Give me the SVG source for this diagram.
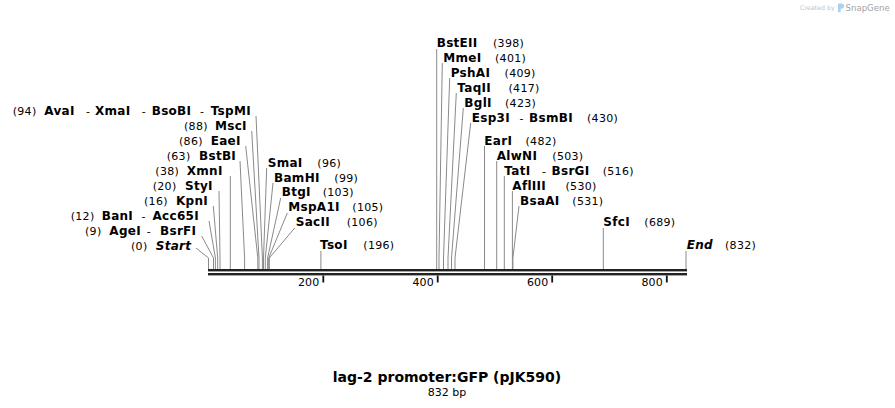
<svg xmlns="http://www.w3.org/2000/svg" width="895" height="408" viewBox="0 0 895 408">
<style>
text{font-family:"DejaVu Sans","Liberation Sans",sans-serif;fill:#000}
.n{font-size:11px;letter-spacing:0.3px}
.b{font-size:12px;font-weight:bold;letter-spacing:0.3px}
.i{font-size:12px;font-weight:bold;font-style:italic;letter-spacing:0.3px}
.d{font-size:11px}
.ld{fill:none;stroke:#8a8a8a;stroke-width:1}
.bb{fill:#222}
.tk{fill:#111}
.tl{font-size:11px;letter-spacing:0.2px}
.title{font-size:14px;font-weight:bold}
.sub{font-size:11px}
</style>
<rect width="895" height="408" fill="#fff"/>
<g id="logo">
<text x="800" y="10" style="font-size:6.3px;fill:#c4c4c4">Created by</text>
<path d="M838,3.5 h3.5 a2.6,2.6 0 0 1 0,5.2 h-0.8 v3.6 h-2.7 z" fill="#a9d2ee"/>
<text x="845.5" y="11" style="font-size:8.6px;fill:#a4a4a4">SnapGene</text>
</g>
<g id="backbone">
<rect class="bb" x="208" y="269" width="479" height="2.4"/>
<rect class="bb" x="208" y="273" width="479" height="2.4"/>
<rect class="tk" x="322.4" y="275.5" width="1.8" height="7"/>
<rect class="tk" x="436.8" y="275.5" width="1.8" height="7"/>
<rect class="tk" x="551.3" y="275.5" width="1.8" height="7"/>
<rect class="tk" x="665.9" y="275.5" width="1.8" height="7"/>
<text class="tl" x="319.5" y="285.5" text-anchor="end">200</text>
<text class="tl" x="434" y="285.5" text-anchor="end">400</text>
<text class="tl" x="548.5" y="285.5" text-anchor="end">600</text>
<text class="tl" x="663" y="285.5" text-anchor="end">800</text>
</g>
<g id="connectors">
<polyline class="ld" points="256,116 262.4,258 262.4,269"/>
<polyline class="ld" points="251.7,131 259,258 259,269"/>
<polyline class="ld" points="245.7,146 257.8,258 257.8,269"/>
<polyline class="ld" points="240,161 244.6,258 244.6,269"/>
<polyline class="ld" points="230.3,176 230.3,269"/>
<polyline class="ld" points="219,191 220,258 220,269"/>
<polyline class="ld" points="213.3,206 217.7,258 217.7,269"/>
<polyline class="ld" points="209,221 215.4,258 215.4,269"/>
<polyline class="ld" points="201.7,236 213.5,258 213.5,269"/>
<polyline class="ld" points="196,248 208.5,258 208.5,269"/>
<polyline class="ld" points="266.7,168 263.5,258 263.5,269"/>
<polyline class="ld" points="273,183 265.3,258 265.3,269"/>
<polyline class="ld" points="280.7,198 267.6,258 267.6,269"/>
<polyline class="ld" points="287.3,213 268.7,258 268.7,269"/>
<polyline class="ld" points="294.7,228 269.3,258 269.3,269"/>
<polyline class="ld" points="320.9,251 320.9,269"/>
<polyline class="ld" points="436.7,49 436.7,269"/>
<polyline class="ld" points="442.3,63 439,258 439,269"/>
<polyline class="ld" points="449.7,78 443.5,258 443.5,269"/>
<polyline class="ld" points="456.3,93 448,258 448,269"/>
<polyline class="ld" points="463.3,108 451.5,258 451.5,269"/>
<polyline class="ld" points="470.7,123 455,258 455,269"/>
<polyline class="ld" points="484.5,146 484.5,269"/>
<polyline class="ld" points="496.7,161 496.7,269"/>
<polyline class="ld" points="504.3,176 504.3,269"/>
<polyline class="ld" points="512.4,191 512.4,269"/>
<polyline class="ld" points="519,206 512.9,258 512.9,269"/>
<polyline class="ld" points="603.3,228 603.3,269"/>
<polyline class="ld" points="686,251 686,269"/>
</g>
<g id="site-94">
<text class="n" x="12.7" y="114.5">(94)</text>
<text class="b" x="44.3" y="114.5">AvaI</text>
<text class="d" x="86" y="114.5">-</text><text class="b" x="95" y="114.5">XmaI</text>
<text class="d" x="141.7" y="114.5">-</text><text class="b" x="151.7" y="114.5">BsoBI</text>
<text class="d" x="200" y="114.5">-</text><text class="b" x="210.7" y="114.5">TspMI</text>
</g>
<g id="site-88"><text class="n" x="184" y="129.5">(88)</text><text class="b" x="215" y="129.5">MscI</text></g>
<g id="site-86"><text class="n" x="179" y="144.5">(86)</text><text class="b" x="210.7" y="144.5">EaeI</text></g>
<g id="site-63"><text class="n" x="166.7" y="159.5">(63)</text><text class="b" x="199" y="159.5">BstBI</text></g>
<g id="site-38"><text class="n" x="155.3" y="174.5">(38)</text><text class="b" x="186.7" y="174.5">XmnI</text></g>
<g id="site-20"><text class="n" x="152.7" y="189.5">(20)</text><text class="b" x="185" y="189.5">StyI</text></g>
<g id="site-16"><text class="n" x="144" y="204.5">(16)</text><text class="b" x="176" y="204.5">KpnI</text></g>
<g id="site-12"><text class="n" x="70.7" y="219.5">(12)</text><text class="b" x="101.7" y="219.5">BanI</text><text class="d" x="141.5" y="219.5">-</text><text class="b" x="152.5" y="219.5">Acc65I</text></g>
<g id="site-9"><text class="n" x="85" y="234.5">(9)</text><text class="b" x="109.3" y="234.5">AgeI</text><text class="d" x="146.7" y="234.5">-</text><text class="b" x="160" y="234.5">BsrFI</text></g>
<g id="site-0"><text class="n" x="131" y="249.5">(0)</text><text class="i" x="155.7" y="249.5">Start</text></g>
<g id="site-96"><text class="b" x="267.7" y="166.7">SmaI</text><text class="n" x="317.3" y="166.7">(96)</text></g>
<g id="site-99"><text class="b" x="274" y="181.5">BamHI</text><text class="n" x="334.3" y="181.5">(99)</text></g>
<g id="site-103"><text class="b" x="281.7" y="196.3">BtgI</text><text class="n" x="322.7" y="196.3">(103)</text></g>
<g id="site-105"><text class="b" x="288.3" y="211.2">MspA1I</text><text class="n" x="352.3" y="211.2">(105)</text></g>
<g id="site-106"><text class="b" x="295.7" y="226">SacII</text><text class="n" x="346.7" y="226">(106)</text></g>
<g id="site-196"><text class="b" x="320" y="249.4">TsoI</text><text class="n" x="363.3" y="249.4">(196)</text></g>
<g id="site-398"><text class="b" x="436.7" y="47">BstEII</text><text class="n" x="493" y="47">(398)</text></g>
<g id="site-401"><text class="b" x="443.3" y="62">MmeI</text><text class="n" x="495" y="62">(401)</text></g>
<g id="site-409"><text class="b" x="450.7" y="77">PshAI</text><text class="n" x="504.6" y="77">(409)</text></g>
<g id="site-417"><text class="b" x="457.3" y="92">TaqII</text><text class="n" x="508.5" y="92">(417)</text></g>
<g id="site-423"><text class="b" x="464.3" y="107">BglI</text><text class="n" x="505" y="107">(423)</text></g>
<g id="site-430"><text class="b" x="471.7" y="122">Esp3I</text><text class="d" x="519.5" y="122">-</text><text class="b" x="529" y="122">BsmBI</text><text class="n" x="587" y="122">(430)</text></g>
<g id="site-482"><text class="b" x="484.3" y="145">EarI</text><text class="n" x="525.5" y="145">(482)</text></g>
<g id="site-503"><text class="b" x="496.7" y="159.5">AlwNI</text><text class="n" x="552.3" y="159.5">(503)</text></g>
<g id="site-516"><text class="b" x="504.3" y="174.5">TatI</text><text class="d" x="542" y="174.5">-</text><text class="b" x="551.5" y="174.5">BsrGI</text><text class="n" x="602.7" y="174.5">(516)</text></g>
<g id="site-530"><text class="b" x="512.3" y="189.5">AflIII</text><text class="n" x="565.5" y="189.5">(530)</text></g>
<g id="site-531"><text class="b" x="520" y="204.5">BsaAI</text><text class="n" x="572.3" y="204.5">(531)</text></g>
<g id="site-689"><text class="b" x="603.3" y="226">SfcI</text><text class="n" x="644.3" y="226">(689)</text></g>
<g id="site-832"><text class="i" x="686.7" y="249.4">End</text><text class="n" x="725" y="249.4">(832)</text></g>
<g id="title">
<text class="title" x="447" y="382" text-anchor="middle">lag-2 promoter:GFP (pJK590)</text>
<text class="sub" x="447" y="396" text-anchor="middle">832 bp</text>
</g>
</svg>
